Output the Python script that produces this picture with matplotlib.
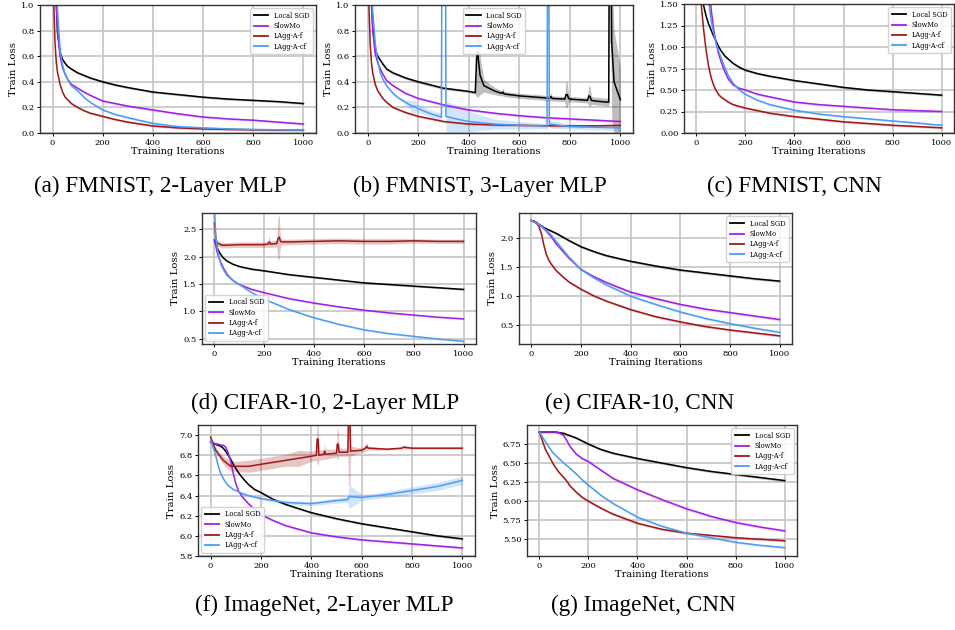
import numpy as np
import matplotlib
matplotlib.use("Agg")
import matplotlib.pyplot as plt

NAMES = ["Local SGD", "SlowMo", "LAgg-A-f", "LAgg-A-cf"]
COLORS = ["black", "#a21ee6", "#a01818", "#4c9bf5"]

# (a) FMNIST, 2-Layer MLP
X_A = [0, 5, 10, 15, 20, 30, 40, 50, 60, 75, 100, 125, 150, 200, 250, 300, 400, 500, 600, 700, 800, 900, 1000]
A_LOCAL = [2.3, 2.0, 1.4, 1.0, 0.78, 0.63, 0.575, 0.545, 0.52, 0.5, 0.47, 0.45, 0.43, 0.40, 0.375, 0.355, 0.32, 0.30, 0.28, 0.265, 0.255, 0.245, 0.23]
A_SLOWMO = [2.3, 2.0, 1.35, 1.0, 0.8, 0.6, 0.51, 0.46, 0.42, 0.38, 0.35, 0.32, 0.295, 0.25, 0.23, 0.21, 0.18, 0.15, 0.125, 0.11, 0.10, 0.085, 0.07]
A_F = [2.3, 1.0, 0.7, 0.55, 0.47, 0.38, 0.32, 0.28, 0.26, 0.23, 0.2, 0.175, 0.155, 0.13, 0.105, 0.085, 0.055, 0.04, 0.032, 0.028, 0.025, 0.023, 0.022]
A_CF = [2.3, 2.2, 1.6, 1.2, 0.95, 0.65, 0.53, 0.46, 0.42, 0.37, 0.33, 0.28, 0.24, 0.18, 0.145, 0.12, 0.075, 0.05, 0.04, 0.032, 0.028, 0.025, 0.022]

# (b) FMNIST, 3-Layer MLP
X_B = [0, 5, 10, 15, 20, 30, 40, 50, 60, 75, 100, 125, 150, 200, 250, 300, 400, 500, 600, 700, 800, 900, 1000]
XB_LOCAL = [0, 5, 10, 15, 20, 30, 40, 50, 60, 75, 100, 125, 150, 200, 250, 300, 400, 426, 431, 435, 445, 460,
            500, 530, 535, 540, 600, 700, 720, 725, 730, 780, 785, 790, 795, 800, 870, 875, 880, 885, 900,
            954, 956, 962, 966, 975, 1000]
B_LOCAL = [2.3, 2.0, 1.4, 1.05, 0.85, 0.65, 0.6, 0.57, 0.54, 0.5, 0.47, 0.45, 0.43, 0.40, 0.375, 0.35, 0.325,
           0.315, 0.58, 0.63, 0.45, 0.37, 0.33, 0.31, 0.32, 0.305, 0.29, 0.275, 0.27, 0.285, 0.27,
           0.265, 0.30, 0.30, 0.27, 0.265, 0.255, 0.29, 0.285, 0.255, 0.25, 0.24, 1.6, 1.6, 0.7, 0.4, 0.26]
B_LOCAL_SD = [0.01] * 17 + [0.01, 0.3, 0.35, 0.15, 0.05, 0.03, 0.02, 0.03, 0.02, 0.02, 0.02, 0.02, 0.03, 0.02,
                            0.02, 0.1, 0.1, 0.03, 0.02, 0.02, 0.08, 0.08, 0.03, 0.03, 0.03, 0.9, 0.9, 0.6, 0.4, 0.25]
B_SLOWMO = [2.3, 2.0, 1.35, 1.0, 0.8, 0.62, 0.55, 0.5, 0.46, 0.41, 0.37, 0.34, 0.31, 0.27, 0.245, 0.22, 0.18, 0.155, 0.135, 0.12, 0.11, 0.10, 0.09]
B_F = [2.3, 1.0, 0.7, 0.55, 0.47, 0.38, 0.33, 0.3, 0.27, 0.24, 0.2, 0.18, 0.16, 0.13, 0.11, 0.09, 0.07, 0.063, 0.06, 0.057, 0.055, 0.056, 0.06]
XB_CF = [0, 5, 10, 15, 20, 30, 40, 50, 60, 75, 100, 125, 150, 180, 185, 200, 250, 292, 294, 308, 310, 350,
         400, 500, 600, 700, 710, 712, 717, 719, 800, 900, 1000]
B_CF = [2.3, 2.2, 1.6, 1.2, 0.95, 0.7, 0.56, 0.47, 0.42, 0.37, 0.31, 0.27, 0.24, 0.205, 0.21, 0.19, 0.15, 0.125,
        1.6, 1.6, 0.13, 0.11, 0.09, 0.07, 0.06, 0.055, 0.05, 1.6, 1.6, 0.07, 0.05, 0.045, 0.04]
B_CF_SD = [0.01] * 12 + [0.02, 0.05, 0.05, 0.03, 0.03, 0.03, 0.1, 0.1, 0.12, 0.11, 0.08, 0.04, 0.03, 0.02, 0.02,
                         0.05, 0.05, 0.03, 0.02, 0.02, 0.02]

# (c) FMNIST, CNN
X_C = [0, 10, 20, 30, 40, 50, 60, 70, 80, 90, 100, 115, 130, 150, 175, 200, 250, 300, 400, 500, 600, 700, 800, 900, 1000]
C_LOCAL = [2.3, 2.1, 1.8, 1.48, 1.36, 1.27, 1.2, 1.13, 1.07, 1.01, 0.96, 0.9, 0.86, 0.81, 0.765, 0.73, 0.69, 0.66, 0.61, 0.57, 0.53, 0.5, 0.48, 0.46, 0.44]
C_SLOWMO = [2.3, 2.3, 2.25, 2.1, 1.95, 1.75, 1.45, 1.22, 1.06, 0.93, 0.84, 0.72, 0.63, 0.56, 0.52, 0.5, 0.45, 0.42, 0.36, 0.33, 0.31, 0.29, 0.27, 0.26, 0.25]
C_F = [2.3, 2.0, 1.5, 1.2, 0.96, 0.78, 0.65, 0.56, 0.5, 0.45, 0.42, 0.39, 0.36, 0.33, 0.31, 0.29, 0.26, 0.23, 0.19, 0.16, 0.13, 0.11, 0.09, 0.075, 0.06]
C_CF = [2.3, 2.3, 2.2, 2.0, 1.8, 1.55, 1.32, 1.17, 1.05, 0.96, 0.88, 0.77, 0.67, 0.58, 0.5, 0.45, 0.38, 0.33, 0.265, 0.22, 0.19, 0.165, 0.14, 0.115, 0.09]

# (d) CIFAR-10, 2-Layer MLP
X_D = [0, 5, 10, 15, 25, 35, 50, 75, 100, 150, 200, 300, 400, 500, 600, 700, 800, 900, 1000]
D_LOCAL = [2.3, 2.25, 2.18, 2.12, 2.04, 1.98, 1.92, 1.86, 1.82, 1.77, 1.74, 1.67, 1.62, 1.57, 1.52, 1.49, 1.46, 1.43, 1.40]
D_SLOWMO = [2.3, 2.2, 2.1, 2.02, 1.9, 1.8, 1.68, 1.56, 1.49, 1.4, 1.34, 1.23, 1.15, 1.08, 1.02, 0.97, 0.93, 0.89, 0.86]
D_CF = [2.9, 2.4, 2.2, 2.06, 1.87, 1.77, 1.66, 1.56, 1.49, 1.34, 1.22, 1.03, 0.88, 0.76, 0.66, 0.59, 0.54, 0.49, 0.45]
XD_F = [0, 5, 10, 30, 50, 100, 150, 200, 215, 220, 225, 250, 255, 260, 265, 270, 300, 400, 500, 600, 700, 800, 900, 1000]
D_F = [2.62, 2.35, 2.25, 2.21, 2.21, 2.22, 2.22, 2.22, 2.23, 2.27, 2.23, 2.24, 2.33, 2.36, 2.28, 2.27, 2.27, 2.28, 2.29, 2.28, 2.28, 2.29, 2.28, 2.28]
D_F_SD = [0.05, 0.05, 0.05, 0.05, 0.05, 0.05, 0.05, 0.05, 0.06, 0.1, 0.06, 0.06, 0.4, 0.4, 0.08, 0.05, 0.05, 0.05, 0.05, 0.05, 0.05, 0.04, 0.04, 0.04]

# (e) CIFAR-10, CNN
X_E = [0, 10, 20, 30, 40, 50, 60, 70, 80, 100, 125, 150, 200, 250, 300, 400, 500, 600, 700, 800, 900, 1000]
E_LOCAL = [2.3, 2.29, 2.26, 2.23, 2.21, 2.18, 2.16, 2.14, 2.12, 2.08, 2.02, 1.96, 1.85, 1.77, 1.7, 1.6, 1.52, 1.45, 1.4, 1.35, 1.3, 1.26]
E_SLOWMO = [2.3, 2.29, 2.27, 2.24, 2.2, 2.16, 2.12, 2.07, 2.02, 1.9, 1.78, 1.66, 1.46, 1.34, 1.24, 1.07, 0.96, 0.86, 0.78, 0.72, 0.66, 0.60]
E_F = [2.3, 2.29, 2.26, 2.2, 2.08, 1.88, 1.72, 1.62, 1.55, 1.44, 1.34, 1.25, 1.12, 1.01, 0.92, 0.77, 0.65, 0.56, 0.48, 0.42, 0.37, 0.32]
E_CF = [2.3, 2.28, 2.26, 2.23, 2.2, 2.17, 2.13, 2.09, 2.05, 1.94, 1.81, 1.68, 1.46, 1.32, 1.2, 1.0, 0.86, 0.73, 0.62, 0.53, 0.45, 0.38]

# (f) ImageNet, 2-Layer MLP
X_F = [0, 10, 20, 30, 40, 50, 60, 70, 80, 90, 100, 110, 125, 150, 175, 200, 250, 300, 400, 500, 600, 700, 800, 900, 1000]
F_LOCAL = [6.93, 6.92, 6.91, 6.9, 6.89, 6.87, 6.84, 6.8, 6.76, 6.71, 6.67, 6.63, 6.58, 6.51, 6.46, 6.43, 6.36, 6.31, 6.23, 6.17, 6.12, 6.08, 6.04, 6.0, 5.97]
F_SLOWMO = [6.93, 6.92, 6.91, 6.91, 6.9, 6.9, 6.88, 6.82, 6.74, 6.62, 6.52, 6.45, 6.39, 6.32, 6.26, 6.21, 6.15, 6.1, 6.03, 5.99, 5.96, 5.94, 5.92, 5.9, 5.88]
XF_CF = [0, 10, 20, 30, 40, 50, 60, 70, 80, 90, 100, 110, 125, 150, 175, 200, 250, 300, 400, 500, 545, 550, 600, 700, 800, 900, 1000]
F_CF = [6.95, 6.88, 6.8, 6.7, 6.62, 6.57, 6.53, 6.5, 6.48, 6.46, 6.45, 6.44, 6.42, 6.4, 6.385, 6.37, 6.35, 6.33, 6.32, 6.35, 6.36, 6.39, 6.38, 6.41, 6.45, 6.49, 6.55]
F_CF_SD = [0.01] * 15 + [0.015, 0.015, 0.02, 0.02, 0.025, 0.03, 0.12, 0.03, 0.03, 0.035, 0.04, 0.04]
XF_F = [0, 20, 50, 80, 100, 150, 200, 300, 350, 400, 420, 423, 427, 430, 450, 453, 456, 500, 503, 507, 510,
        545, 548, 553, 556, 600, 615, 620, 625, 700, 760, 765, 800, 1000]
F_F = [6.98, 6.85, 6.75, 6.69, 6.69, 6.69, 6.71, 6.75, 6.77, 6.79, 6.8, 6.96, 6.96, 6.8, 6.81, 6.84, 6.81, 6.82, 6.91, 6.91, 6.83,
       6.83, 7.2, 7.2, 6.84, 6.85, 6.87, 6.89, 6.87, 6.86, 6.87, 6.88, 6.87, 6.87]
F_F_SD = [0.01, 0.03, 0.04, 0.05, 0.05, 0.06, 0.06, 0.06, 0.08, 0.05, 0.05, 0.25, 0.25, 0.05, 0.05, 0.08, 0.05, 0.04, 0.15, 0.15, 0.04,
          0.04, 0.7, 0.7, 0.05, 0.02, 0.03, 0.04, 0.02, 0.01, 0.01, 0.02, 0.01, 0.01]

# (g) ImageNet, CNN
X_G = [0, 25, 50, 60, 80, 100, 115, 125, 150, 175, 200, 250, 300, 400, 500, 600, 700, 800, 900, 1000]
G_LOCAL = [6.91, 6.91, 6.91, 6.91, 6.9, 6.89, 6.87, 6.86, 6.83, 6.79, 6.75, 6.68, 6.63, 6.56, 6.5, 6.44, 6.39, 6.35, 6.31, 6.27]
G_SLOWMO = [6.91, 6.91, 6.91, 6.91, 6.9, 6.86, 6.78, 6.72, 6.62, 6.56, 6.52, 6.41, 6.3, 6.15, 6.02, 5.9, 5.8, 5.72, 5.66, 5.61]
G_F = [6.91, 6.68, 6.53, 6.47, 6.38, 6.31, 6.25, 6.2, 6.12, 6.05, 6.0, 5.91, 5.83, 5.71, 5.63, 5.58, 5.55, 5.52, 5.5, 5.48]
G_CF = [6.91, 6.78, 6.66, 6.62, 6.56, 6.5, 6.46, 6.43, 6.36, 6.28, 6.21, 6.08, 5.97, 5.79, 5.67, 5.58, 5.52, 5.46, 5.42, 5.39]

CAPTIONS = ["(a) FMNIST, 2-Layer MLP", "(b) FMNIST, 3-Layer MLP", "(c) FMNIST, CNN",
            "(d) CIFAR-10, 2-Layer MLP", "(e) CIFAR-10, CNN",
            "(f) ImageNet, 2-Layer MLP", "(g) ImageNet, CNN"]

plt.rcParams["font.family"] = "DejaVu Serif"

W, H = 955, 630
fig = plt.figure(figsize=(W / 100, H / 100), dpi=100)


def make_ax(x0, y0, x1, y1):
    return fig.add_axes([x0 / W, 1 - y1 / H, (x1 - x0) / W, (y1 - y0) / H])


def draw(ax, series, ylim, yticks, yfmt, loc, band):
    for (x, y, sd), name, c in zip(series, NAMES, COLORS):
        x = np.array(x)
        y = np.array(y)
        sd = np.full(len(y), band) if sd is None else np.array(sd)
        ax.fill_between(x, y - sd, y + sd, color=c, alpha=0.25, lw=0)
        ax.plot(x, y, color=c, lw=1.1, label=name)
    ax.set_ylim(*ylim)
    ax.set_xlim(-50, 1050)
    ax.set_xticks(range(0, 1001, 200))
    ax.set_yticks(yticks)
    ax.set_yticklabels([yfmt.format(v) for v in yticks])
    ax.grid(True, color="#c4c4c4", lw=1.2)
    ax.set_axisbelow(True)
    ax.tick_params(labelsize=6, length=2.5, width=0.7, pad=1.5)
    for s in ax.spines.values():
        s.set_linewidth(1.0)
        s.set_color("#333333")
    ax.set_xlabel("Training Iterations", fontsize=7, labelpad=0.5)
    ax.set_ylabel("Train Loss", fontsize=7.3, labelpad=2)
    leg = ax.legend(loc=loc, fontsize=4.8, handlelength=2.2, borderpad=0.5,
                    labelspacing=0.35, framealpha=0.85)
    for h in leg.get_lines():
        h.set_linewidth(1.3)


ax = make_ax(40, 5, 316, 133)
draw(ax, [(X_A, A_LOCAL, None), (X_A, A_SLOWMO, None), (X_A, A_F, None), (X_A, A_CF, None)],
     (0, 1.0), np.arange(0, 1.01, 0.2), "{:.1f}", "upper right", 0.008)

ax = make_ax(355, 5, 633, 133)
draw(ax, [(XB_LOCAL, B_LOCAL, B_LOCAL_SD), (X_B, B_SLOWMO, None), (X_B, B_F, None), (XB_CF, B_CF, B_CF_SD)],
     (0, 1.0), np.arange(0, 1.01, 0.2), "{:.1f}", "upper center", 0.008)

ax = make_ax(684, 4, 954, 133)
draw(ax, [(X_C, C_LOCAL, None), (X_C, C_SLOWMO, None), (X_C, C_F, None), (X_C, C_CF, None)],
     (0, 1.5), np.arange(0, 1.51, 0.25), "{:.2f}", "upper right", 0.012)

ax = make_ax(202, 213, 476, 344)
draw(ax, [(X_D, D_LOCAL, None), (X_D, D_SLOWMO, None), (XD_F, D_F, D_F_SD), (X_D, D_CF, None)],
     (0.4, 2.8), [0.5, 1.0, 1.5, 2.0, 2.5], "{:.1f}", "lower left", 0.015)

ax = make_ax(519, 213, 792, 344)
draw(ax, [(X_E, E_LOCAL, None), (X_E, E_SLOWMO, None), (X_E, E_F, None), (X_E, E_CF, None)],
     (0.18, 2.43), [0.5, 1.0, 1.5, 2.0], "{:.1f}", "upper right", 0.02)

ax = make_ax(198, 425, 475, 556)
draw(ax, [(X_F, F_LOCAL, None), (X_F, F_SLOWMO, None), (XF_F, F_F, F_F_SD), (XF_CF, F_CF, F_CF_SD)],
     (5.8, 7.1), [5.8, 6.0, 6.2, 6.4, 6.6, 6.8, 7.0], "{:.1f}", "lower left", 0.01)

ax = make_ax(527, 425, 797, 556)
draw(ax, [(X_G, G_LOCAL, None), (X_G, G_SLOWMO, None), (X_G, G_F, None), (X_G, G_CF, None)],
     (5.28, 7.0), [5.5, 5.75, 6.0, 6.25, 6.5, 6.75], "{:.2f}", "upper right", 0.015)

cap_pos = [(160, 186), (480, 186), (794, 186), (325, 403), (640, 403), (324, 605), (643, 605)]
for (cx, cy), text in zip(cap_pos, CAPTIONS):
    fig.text(cx / W, 1 - cy / H, text, ha="center", va="center",
             fontsize=16.7, family="Liberation Serif")

fig.savefig("out.png", dpi=100)
